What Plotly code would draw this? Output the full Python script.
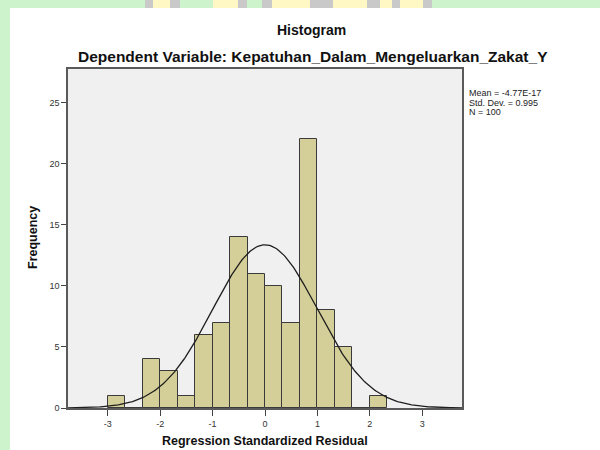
import numpy as np
import plotly.graph_objects as go

# histogram of regression standardized residuals (SPSS output)
bin_start = -3.0
bin_width = 1 / 3
counts = [1, 0, 4, 3, 1, 6, 7, 14, 11, 10, 7, 22, 8, 5, 0, 1]
x_ticks = [-3, -2, -1, 0, 1, 2, 3]
x_tick_labels = ["-3", "-2", "-1", "0", "1", "2", "3"]
y_ticks = [0, 5, 10, 15, 20, 25]

mean = -4.77e-17
std_dev = 0.995
n_obs = 100

title = "Histogram"
subtitle = "Dependent Variable: Kepatuhan_Dalam_Mengeluarkan_Zakat_Y"
stats_lines = ["Mean = -4.77E-17", "Std. Dev. = 0.995", "N = 100"]

FONT = "Liberation Sans, Arial, sans-serif"
BAR_FILL = "#D4CF98"
PLOT_BG = "#F0F0F0"
FRAME = "#5A5A5A"
GREEN = "#CDF3CD"

# plot area in pixels
L, R, T, B = 68, 462, 69, 408
X_RANGE = [-3.76, 3.76]
Y_RANGE = [0, 27.76]


def px_x(p):
    return (p - L) / (R - L)


def px_y(p):
    return (B - p) / (B - T)


centers = [bin_start + bin_width * (i + 0.5) for i in range(len(counts))]

# fitted normal curve from the reported mean / std. dev.
curve_x = np.linspace(X_RANGE[0], X_RANGE[1], 300)
curve_y = n_obs * bin_width * np.exp(-0.5 * ((curve_x - mean) / std_dev) ** 2) / (std_dev * np.sqrt(2 * np.pi))

fig = go.Figure()
fig.add_trace(go.Bar(
    x=centers,
    y=counts,
    width=bin_width,
    marker={"color": BAR_FILL, "line": {"color": "#3A3A3A", "width": 1}},
    hoverinfo="x+y",
))
fig.add_trace(go.Scatter(
    x=curve_x,
    y=curve_y,
    mode="lines",
    line={"color": "#1E1E1E", "width": 1.3},
    hoverinfo="skip",
))

annotations = [
    {"text": "<b>" + title + "</b>", "x": px_x(311), "y": px_y(30),
     "font": {"family": FONT, "size": 14, "color": "#111111"}},
    {"text": "<b>" + subtitle + "</b>", "x": px_x(313), "y": px_y(57),
     "font": {"family": FONT, "size": 15.5, "color": "#111111"}},
]
for a in annotations:
    a.update(xref="paper", yref="paper", showarrow=False, xanchor="center", yanchor="middle")

for i, line in enumerate(stats_lines):
    annotations.append({
        "text": line, "xref": "paper", "yref": "paper",
        "x": px_x(467), "y": px_y(93 + i * 9.6),
        "xanchor": "left", "yanchor": "middle", "showarrow": False,
        "font": {"family": FONT, "size": 9, "color": "#222222"},
    })

annotations.append({
    "text": "<b>Frequency</b>", "xref": "paper", "yref": "paper",
    "x": px_x(33), "y": px_y(238), "textangle": -90,
    "xanchor": "center", "yanchor": "middle", "showarrow": False,
    "font": {"family": FONT, "size": 12.5, "color": "#111111"},
})
annotations.append({
    "text": "<b>Regression Standardized Residual</b>", "xref": "paper", "yref": "paper",
    "x": px_x(265), "y": px_y(441),
    "xanchor": "center", "yanchor": "middle", "showarrow": False,
    "font": {"family": FONT, "size": 12.5, "color": "#111111"},
})

# green page border and watermark remnants along the top edge
shapes = [
    {"type": "rect", "x0": px_x(0), "x1": px_x(10), "y0": px_y(0), "y1": px_y(450)},
    {"type": "rect", "x0": px_x(0), "x1": px_x(600), "y0": px_y(0), "y1": px_y(8)},
]
for c in shapes:
    c.update(xref="paper", yref="paper", fillcolor=GREEN, line={"width": 0}, layer="below")

marks = [
    (145, 153, "#C9C9C9"), (153, 170, "#FFF8C4"), (170, 180, "#C9C9C9"),
    (213, 238, "#FFF8C4"), (238, 247, "#C9C9C9"), (262, 272, "#C9C9C9"),
    (272, 310, "#FFF8C4"), (310, 333, "#C9C9C9"), (333, 367, "#FFF8C4"),
    (367, 380, "#C9C9C9"), (380, 392, "#FFF8C4"), (392, 400, "#C9C9C9"),
    (400, 423, "#FFF8C4"), (423, 432, "#C9C9C9"),
]
for x0, x1, col in marks:
    shapes.append({
        "type": "rect", "xref": "paper", "yref": "paper",
        "x0": px_x(x0), "x1": px_x(x1), "y0": px_y(0), "y1": px_y(8),
        "fillcolor": col, "line": {"width": 0}, "layer": "below",
    })

axis_common = dict(
    showgrid=False, zeroline=False, showline=True, mirror=True,
    linecolor=FRAME, linewidth=1.5, ticks="outside", tickcolor="#444444",
    tickfont={"family": FONT, "size": 9, "color": "#333333"},
    fixedrange=True,
)

fig.update_layout(
    width=600,
    height=450,
    showlegend=False,
    bargap=0,
    margin={"l": L, "r": 600 - R, "t": T, "b": 450 - B},
    paper_bgcolor="white",
    plot_bgcolor=PLOT_BG,
    font={"family": FONT},
    xaxis=dict(axis_common, range=X_RANGE, tickvals=x_ticks, ticktext=x_tick_labels, ticklen=6),
    yaxis=dict(axis_common, range=Y_RANGE, tickvals=y_ticks, ticklen=5),
    annotations=annotations,
    shapes=shapes,
)

# drop the browser's default body margin so the figure sits at the page corner
fig.write_html(
    "out.html",
    config={"displayModeBar": False},
    post_script="document.body.style.margin='0';",
)
